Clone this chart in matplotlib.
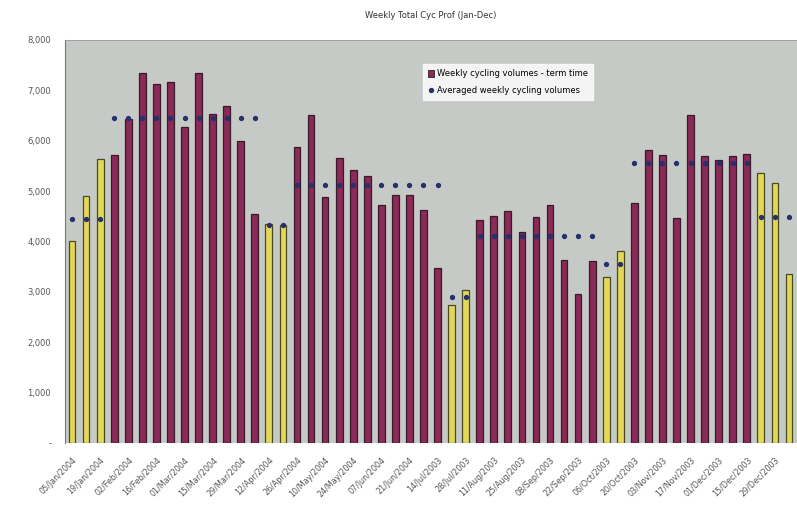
import numpy as np
import matplotlib
matplotlib.use("Agg")
import matplotlib.pyplot as plt
from matplotlib.patches import Patch
from matplotlib.lines import Line2D

# weekly totals, Jan-Jun 2004 followed by Jul-Dec 2003
weekly = [4000, 4900, 5630, 5710, 6440, 7350, 7120, 7170, 6280, 7350,
          6530, 6680, 6000, 4540, 4340, 4330, 5870, 6510, 4880, 5660,
          5420, 5290, 4720, 4930, 4930, 4620, 3480, 2740, 3040, 4420,
          4510, 4600, 4190, 4480, 4730, 3630, 2960, 3610, 3300, 3800,
          4760, 5810, 5720, 4470, 6510, 5690, 5610, 5690, 5740, 5350,
          5160, 3360]

# True = holiday week (yellow), False = term time
holiday = ([True] * 3 + [False] * 11 + [True] * 2 + [False] * 11 +
           [True] * 2 + [False] * 9 + [True] * 2 + [False] * 9 + [True] * 3)

# averaged volume for each block of weeks (first week, block length, value)
avg_start = [0, 3, 14, 16, 27, 29, 38, 40, 49]
avg_len = [3, 11, 2, 11, 2, 9, 2, 9, 3]
avg_val = [4450, 6460, 4320, 5110, 2900, 4110, 3550, 5550, 4480]

tick_labels = ["05/Jan/2004", "19/Jan/2004", "02/Feb/2004", "16/Feb/2004",
               "01/Mar/2004", "15/Mar/2004", "29/Mar/2004", "12/Apr/2004",
               "26/Apr/2004", "10/May/2004", "24/May/2004", "07/Jun/2004",
               "21/Jun/2004", "14/Jul/2003", "28/Jul/2003", "11/Aug/2003",
               "25/Aug/2003", "08/Sep/2003", "22/Sep/2003", "06/Oct/2003",
               "20/Oct/2003", "03/Nov/2003", "17/Nov/2003", "01/Dec/2003",
               "15/Dec/2003", "29/Dec/2003"]

x = np.arange(len(weekly))
term_col = "#8a2a57"
hol_col = "#e3d75a"
dot_col = "#25306e"
colours = [hol_col if h else term_col for h in holiday]
edges = ["#4a4a20" if h else "#3a1a2a" for h in holiday]

avg_series = np.full(len(weekly), np.nan)
for s, n, v in zip(avg_start, avg_len, avg_val):
    avg_series[s:s + n] = v

fig = plt.figure(figsize=(7.97, 5.12), dpi=100)
ax = fig.add_axes([0.0816, 0.135, 0.918, 0.787])
ax.set_facecolor("#c6cac6")

ax.bar(x, weekly, width=0.48, color=colours, edgecolor=edges, linewidth=0.9,
       zorder=2)
ax.plot(x, avg_series, linestyle="none", marker="o", markersize=2.8,
        color=dot_col, zorder=3)

ax.set_xlim(-0.5, len(weekly) - 0.45)
ax.set_ylim(0, 8000)
ax.set_yticks(range(0, 8001, 1000))
ax.set_yticklabels(["-"] + [f"{v:,}" for v in range(1000, 8001, 1000)])
ax.set_xticks(x[::2])
ax.set_xticklabels(tick_labels, rotation=45, ha="right",
                   rotation_mode="anchor", fontsize=5.8, color="#555555")
ax.tick_params(axis="y", labelsize=6, colors="#555555", length=0, pad=10)
ax.tick_params(axis="x", length=0, pad=9)

for side in ["top", "right", "bottom"]:
    ax.spines[side].set_visible(False)
ax.spines["left"].set_color("#777777")
ax.spines["left"].set_linewidth(0.8)
ax.axhline(8000, color="#999999", linewidth=1.2, zorder=1)

ax.set_title("Weekly Total Cyc Prof (Jan-Dec)", fontsize=6, color="#333333",
             pad=16)

handles = [Patch(facecolor=term_col, edgecolor="#3a1a2a", linewidth=0.6),
           Line2D([], [], linestyle="none", marker="o", markersize=2.8,
                  color=dot_col)]
labels = ["Weekly cycling volumes - term time",
          "Averaged weekly cycling volumes"]
leg = ax.legend(handles, labels, loc="upper left",
                bbox_to_anchor=(0.483, 0.95), fontsize=6, frameon=True,
                fancybox=False, handlelength=0.8, handleheight=0.8,
                handletextpad=0.3, borderpad=0.6, labelspacing=0.9)
leg.get_frame().set_facecolor("white")
leg.get_frame().set_edgecolor("white")

fig.savefig("out.png", dpi=100)
